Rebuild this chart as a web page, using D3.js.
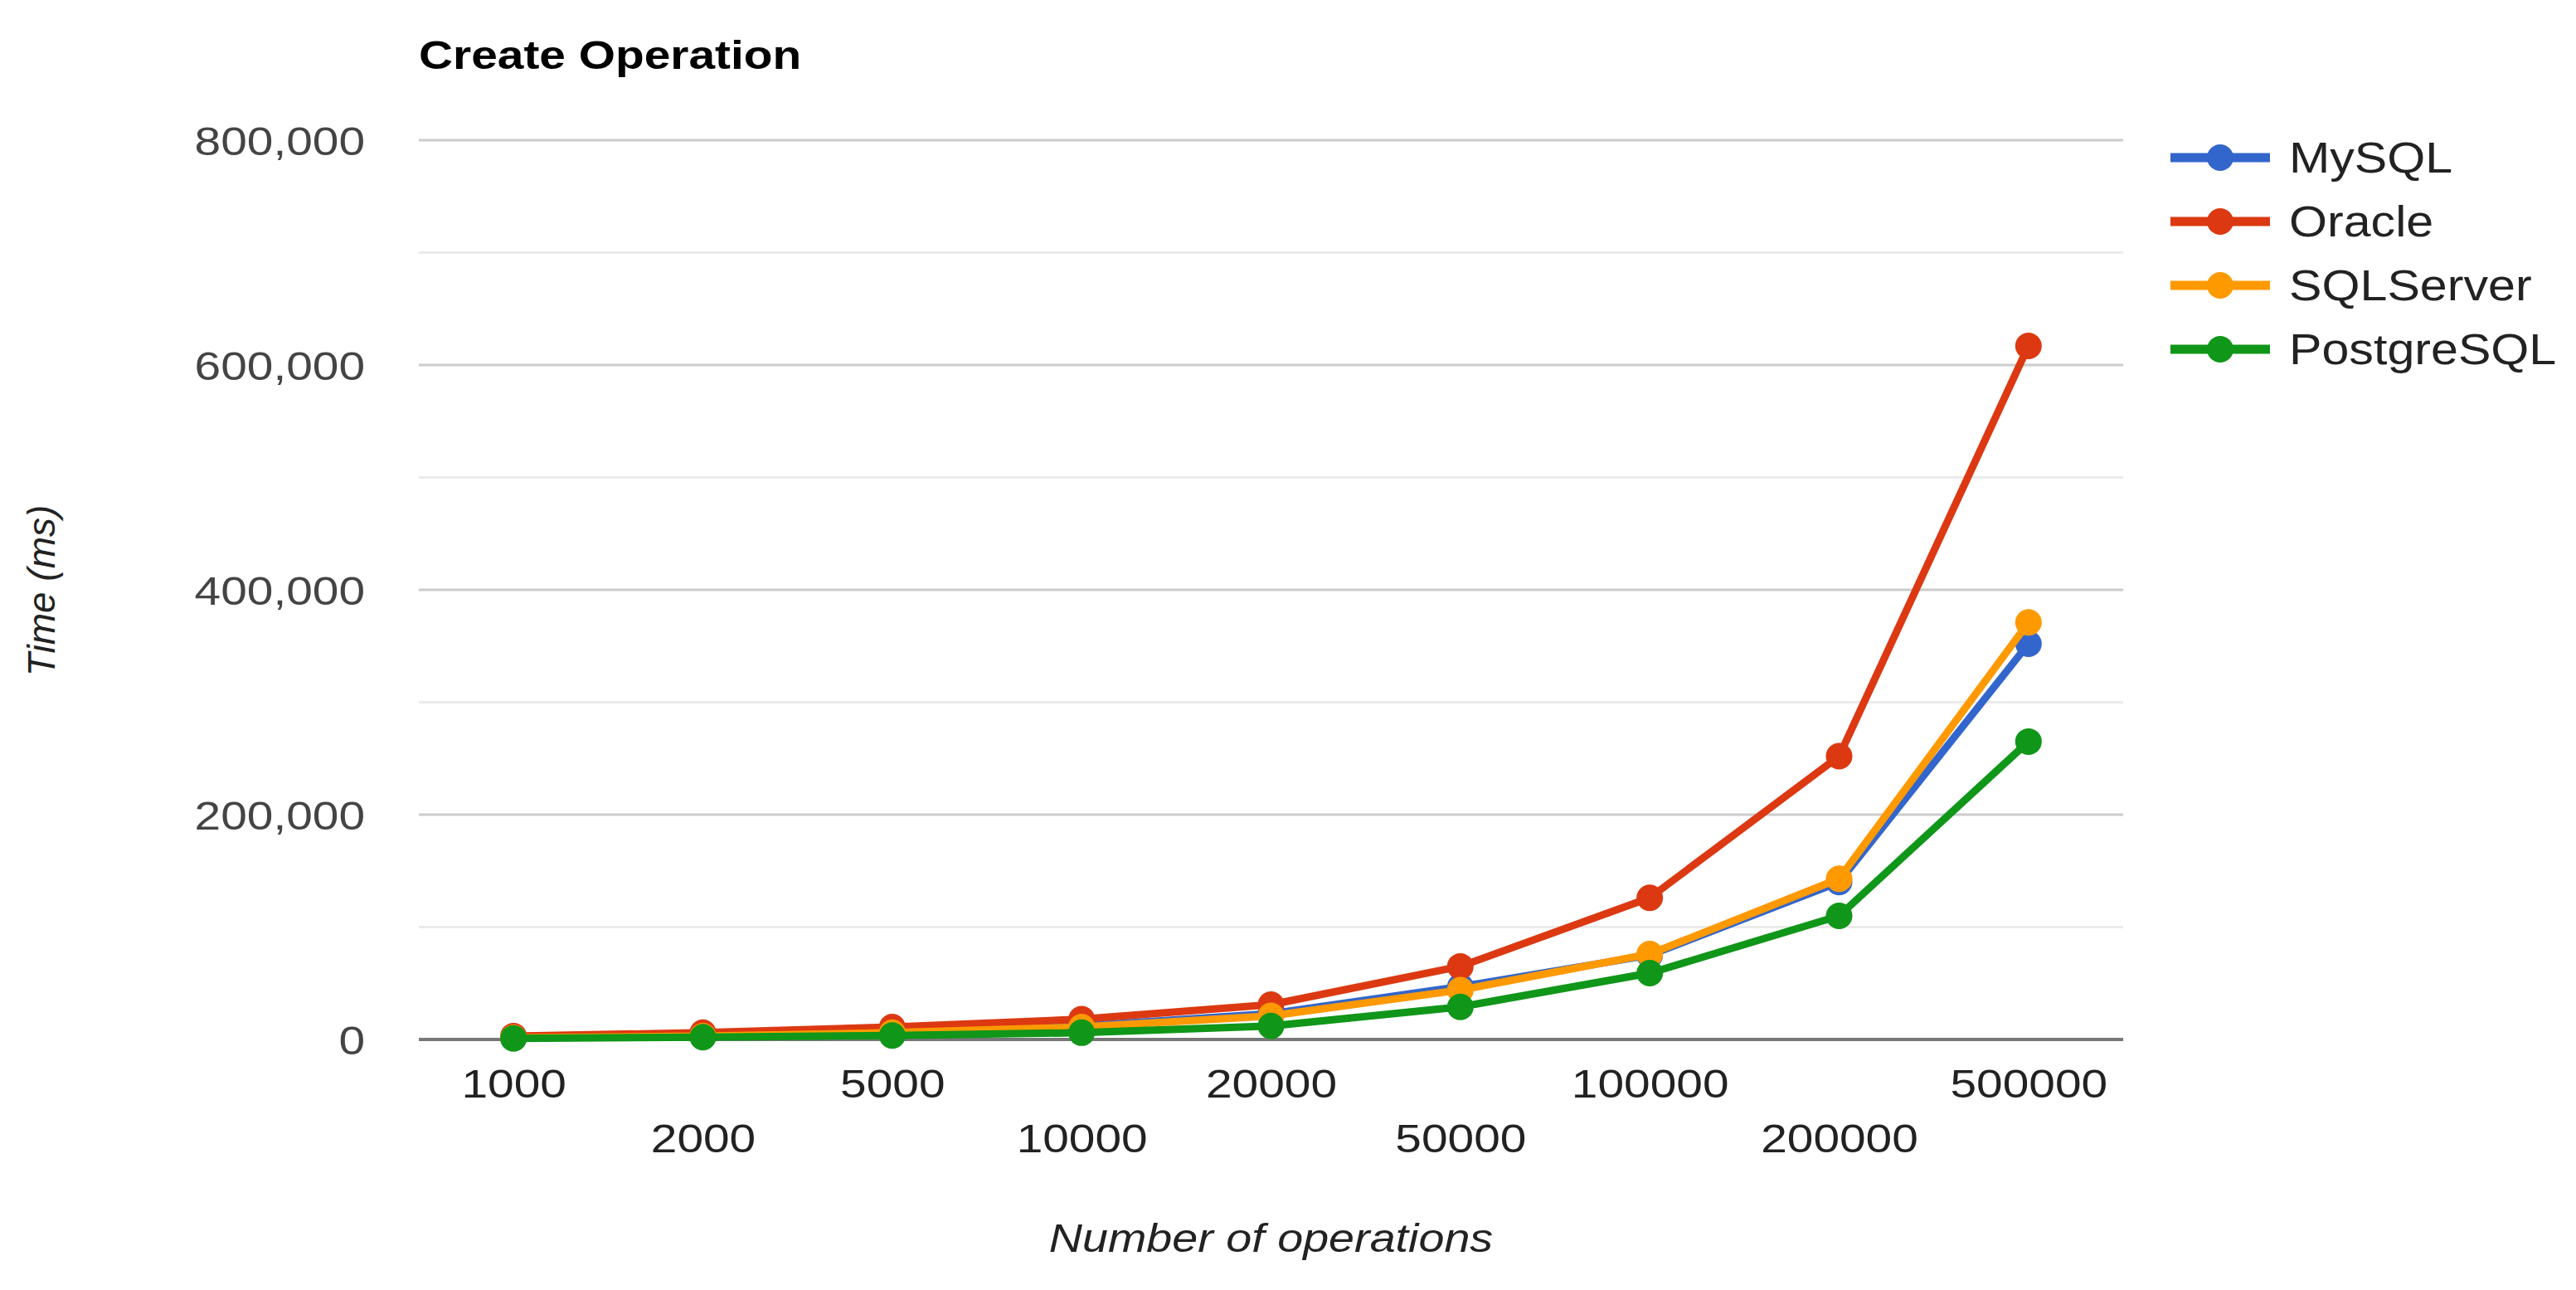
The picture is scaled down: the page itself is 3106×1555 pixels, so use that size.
<!DOCTYPE html>
<html>
<head>
<meta charset="utf-8">
<script src="https://cdn.jsdelivr.net/npm/d3@7"></script>
<style>
  body { margin: 0; background: #fff; }
  text { font-family: "Liberation Sans", Arial, sans-serif; }
</style>
</head>
<body>
<div id="chart"></div>
<script>
'use strict';

// data
const categories = ['1000', '2000', '5000', '10000', '20000', '50000', '100000', '200000', '500000'];
const seriesNames = ['MySQL', 'Oracle', 'SQLServer', 'PostgreSQL'];
const mysql = [1500, 3500, 6500, 12000, 23000, 47000, 75000, 140000, 352000];
const oracle = [3000, 6000, 11000, 18000, 31000, 65000, 126000, 252000, 617000];
const sqlserver = [1500, 3000, 6000, 11000, 21000, 44000, 76000, 143000, 371000];
const postgresql = [1000, 2000, 3500, 6000, 12000, 29000, 59000, 110000, 265000];
const yTicks = [0, 200000, 400000, 600000, 800000];
const yMinor = [100000, 300000, 500000, 700000];

const colors = ['#3366cc', '#dc3912', '#ff9900', '#109618'];
const series = [mysql, oracle, sqlserver, postgresql];

const W = 3106, H = 1555;
const plot = { left: 505, right: 2560, top: 169, bottom: 1253 };
const STRETCH = 1.16;

// text in the picture is a bit wider than plain Arial
function stretch(sel, k) {
    sel.each(function() {
        const w = this.getComputedTextLength();
        d3.select(this)
            .attr('textLength', w * k)
            .attr('lengthAdjust', 'spacingAndGlyphs');
    });
}

const svg = d3.select('#chart').append('svg')
    .attr('width', W)
    .attr('height', H)
    .attr('viewBox', `0 0 ${W} ${H}`);

svg.append('rect').attr('width', W).attr('height', H).attr('fill', '#fff');

const x = d3.scalePoint()
    .domain(categories)
    .range([plot.left, plot.right])
    .padding(0.5);

const y = d3.scaleLinear()
    .domain([0, 800000])
    .range([plot.bottom, plot.top]);

// gridlines
svg.append('g').selectAll('line.minor')
    .data(yMinor)
  .enter().append('line')
    .attr('x1', plot.left).attr('x2', plot.right)
    .attr('y1', d => y(d)).attr('y2', d => y(d))
    .attr('stroke', '#ebebeb')
    .attr('stroke-width', 3);

svg.append('g').selectAll('line.major')
    .data(yTicks.filter(d => d !== 0))
  .enter().append('line')
    .attr('x1', plot.left).attr('x2', plot.right)
    .attr('y1', d => y(d)).attr('y2', d => y(d))
    .attr('stroke', '#cccccc')
    .attr('stroke-width', 3);

// y-axis labels
const yAxis = svg.append('g')
    .attr('transform', `translate(${plot.left - 65}, 0)`)
    .call(d3.axisLeft(y).tickValues(yTicks).tickSize(0).tickPadding(0).tickFormat(d3.format(',')));
yAxis.select('.domain').remove();
yAxis.selectAll('text')
    .attr('font-size', 49)
    .attr('font-family', '"Liberation Sans", Arial, sans-serif')
    .attr('fill', '#444')
    .attr('dy', '0.36em')
    .call(stretch, STRETCH);

// x-axis labels, alternating in two rows
const xAxis = svg.append('g')
    .attr('transform', `translate(0, ${plot.bottom})`)
    .call(d3.axisBottom(x).tickSize(0).tickPadding(0));
xAxis.select('.domain').remove();
xAxis.selectAll('text')
    .attr('font-size', 49)
    .attr('font-family', '"Liberation Sans", Arial, sans-serif')
    .attr('fill', '#222')
    .attr('dy', null)
    .attr('y', (d, i) => i % 2 === 0 ? 70 : 136)
    .call(stretch, STRETCH);

// baseline
svg.append('line')
    .attr('x1', plot.left).attr('x2', plot.right)
    .attr('y1', y(0)).attr('y2', y(0))
    .attr('stroke', '#777')
    .attr('stroke-width', 4);

// series
const line = d3.line()
    .x((d, i) => x(categories[i]))
    .y(d => y(d));

const lines = svg.append('g').selectAll('g.series')
    .data(series)
  .enter().append('g')
    .attr('class', 'series');

lines.append('path')
    .attr('d', d => line(d))
    .attr('fill', 'none')
    .attr('stroke', (d, i) => colors[i])
    .attr('stroke-width', 9)
    .attr('stroke-linejoin', 'round');

lines.each(function(d, i) {
    d3.select(this).selectAll('circle')
        .data(d)
      .enter().append('circle')
        .attr('cx', (v, j) => x(categories[j]))
        .attr('cy', v => y(v))
        .attr('r', 16)
        .attr('fill', colors[i]);
});

// title
svg.append('text')
    .attr('x', plot.left)
    .attr('y', 83)
    .attr('font-size', 49)
    .attr('font-weight', 'bold')
    .attr('fill', '#000')
    .text('Create Operation')
    .call(stretch, STRETCH);

// axis titles
svg.append('text')
    .attr('x', (plot.left + plot.right) / 2)
    .attr('y', 1509)
    .attr('text-anchor', 'middle')
    .attr('font-size', 48)
    .attr('font-style', 'italic')
    .attr('fill', '#222')
    .text('Number of operations')
    .call(stretch, STRETCH);

svg.append('text')
    .attr('transform', 'translate(66, 712) rotate(-90)')
    .attr('text-anchor', 'middle')
    .attr('font-size', 46)
    .attr('font-style', 'italic')
    .attr('fill', '#222')
    .text('Time (ms)');

// legend
const legend = svg.append('g')
    .attr('transform', 'translate(2617, 190)');

const item = legend.selectAll('g')
    .data(seriesNames)
  .enter().append('g')
    .attr('transform', (d, i) => `translate(0, ${i * 77})`);

item.append('line')
    .attr('x1', 0).attr('x2', 120)
    .attr('stroke', (d, i) => colors[i])
    .attr('stroke-width', 11);

item.append('circle')
    .attr('cx', 60)
    .attr('r', 16)
    .attr('fill', (d, i) => colors[i]);

item.append('text')
    .attr('x', 143)
    .attr('dy', '0.36em')
    .attr('font-size', 51)
    .attr('fill', '#222')
    .text(d => d)
    .call(stretch, STRETCH);
</script>
</body>
</html>
